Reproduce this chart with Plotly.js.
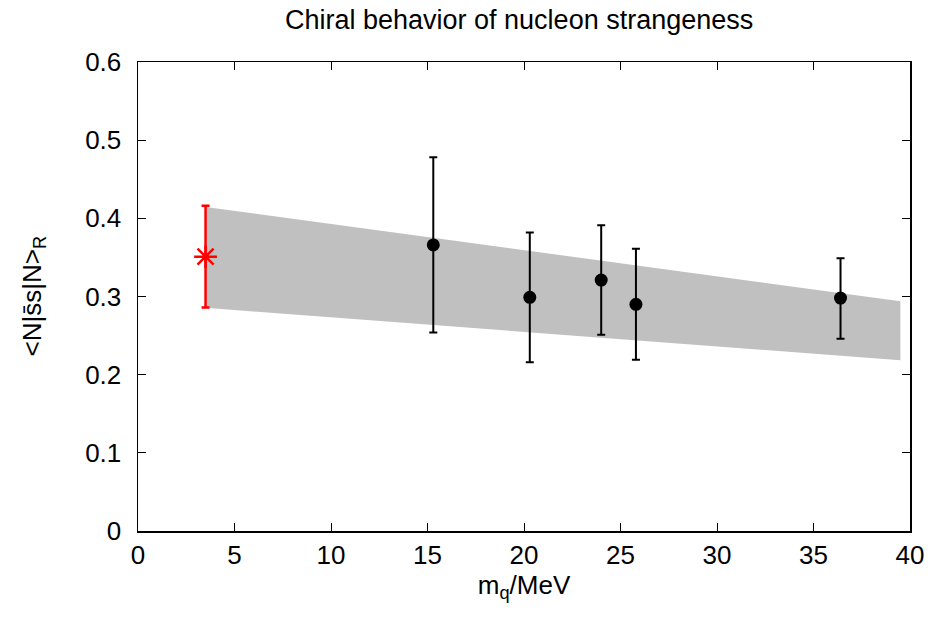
<!DOCTYPE html>
<html>
<head>
<meta charset="utf-8">
<script src="https://cdn.plot.ly/plotly-3.0.1.min.js"></script>
<style>html,body{margin:0;padding:0;background:#fff;}#chart{width:932px;height:617px;}</style>
</head>
<body>
<div id="chart"></div>
<script>
// Lattice data points
const mq = [15.3, 20.3, 24.0, 25.8, 36.4];
const strange = [0.366, 0.299, 0.321, 0.290, 0.298];
const errPlus = [0.112, 0.083, 0.070, 0.071, 0.051];
const errMinus = [0.112, 0.083, 0.070, 0.071, 0.052];

// Physical-point extrapolation
const physMq = [3.5];
const physVal = [0.351];
const physErrPlus = [0.065];
const physErrMinus = [0.065];

// Fit band
const bandX = [3.5, 39.5];
const bandUpper = [0.4145, 0.294];
const bandLower = [0.2855, 0.2185];

const xTicks = [0, 5, 10, 15, 20, 25, 30, 35, 40];
const yTicks = [0, 0.1, 0.2, 0.3, 0.4, 0.5, 0.6];

const font = "Liberation Sans, Arial, sans-serif";

const traces = [
  {x: bandX, y: bandLower, mode: 'lines', line: {width: 0, color: 'rgba(0,0,0,0)'}, hoverinfo: 'skip', showlegend: false},
  {x: bandX, y: bandUpper, mode: 'lines', fill: 'tonexty', fillcolor: '#c0c0c0', line: {width: 0, color: 'rgba(0,0,0,0)'}, hoverinfo: 'skip', showlegend: false},
  {x: mq, y: strange, mode: 'markers', type: 'scatter',
   marker: {color: '#000', size: 13, symbol: 'circle'},
   error_y: {type: 'data', symmetric: false, array: errPlus, arrayminus: errMinus, color: '#000', thickness: 2, width: 4},
   showlegend: false},
  {x: physMq, y: physVal, mode: 'markers', type: 'scatter',
   marker: {color: '#ff0000', size: 19, symbol: 'asterisk-open', line: {color: '#ff0000', width: 2.5}},
   error_y: {type: 'data', symmetric: false, array: physErrPlus, arrayminus: physErrMinus, color: '#ff0000', thickness: 2.5, width: 4},
   showlegend: false}
];

const layout = {
  width: 932, height: 617,
  margin: {l: 138, r: 22, t: 61.5, b: 86, pad: 0},
  paper_bgcolor: '#fff', plot_bgcolor: '#fff',
  font: {family: font, color: '#000'},
  title: {text: 'Chiral behavior of nucleon strangeness', font: {family: font, size: 27, color: '#000'}, x: 0.557, xanchor: 'center', y: 0.968, yanchor: 'middle'},
  xaxis: {
    range: [0, 40], tickvals: xTicks, ticktext: xTicks.map(String),
    ticks: 'inside', ticklen: 8, tickwidth: 1, tickcolor: '#000',
    showline: true, linecolor: '#000', linewidth: 1.5, mirror: 'ticks',
    showgrid: false, zeroline: false,
    tickfont: {family: font, size: 26, color: '#000'},
    title: {text: 'm<sub>q</sub>/MeV', font: {family: font, size: 26, color: '#000'}, standoff: 6}
  },
  yaxis: {
    range: [0, 0.6], tickvals: yTicks, ticktext: yTicks.map(v => String(v)),
    ticks: 'inside', ticklen: 8, tickwidth: 1, tickcolor: '#000',
    showline: true, linecolor: '#000', linewidth: 1.5, mirror: 'ticks',
    showgrid: false, zeroline: false, ticklabelstandoff: 10,
    tickfont: {family: font, size: 26, color: '#000'}
  },
  annotations: [{
    text: '<N|s\u0304s|N><sub>R</sub>', textangle: -90,
    xref: 'paper', yref: 'paper', x: -0.136, y: 0.5, xanchor: 'center', yanchor: 'middle',
    showarrow: false, font: {family: font, size: 26, color: '#000'}
  }]
};

Plotly.newPlot('chart', traces, layout, {staticPlot: true, displayModeBar: false});
</script>
</body>
</html>
